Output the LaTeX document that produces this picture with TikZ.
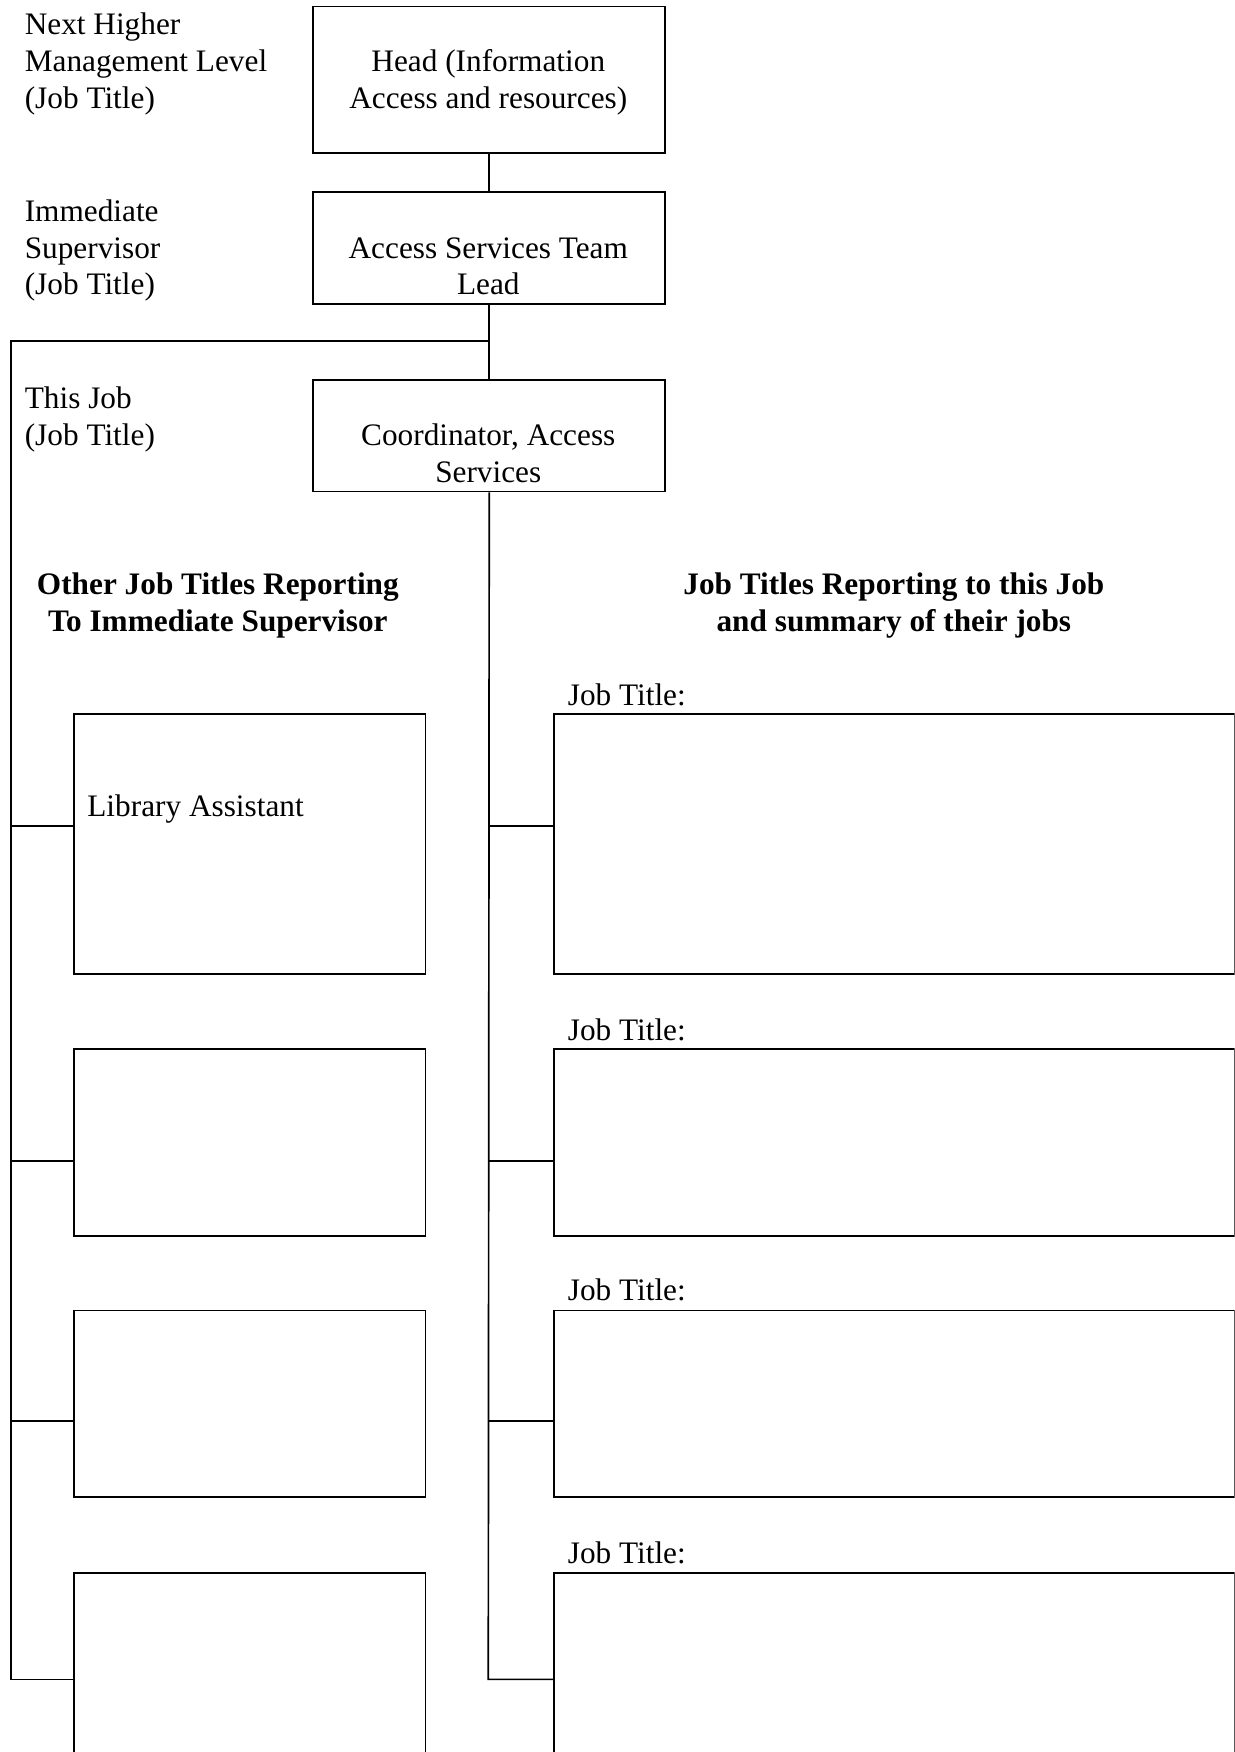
\documentclass[tikz,border=0pt]{standalone}
\usepackage{fontspec}
\setmainfont{Liberation Serif}
\begin{document}
\begin{tikzpicture}[x=1pt,y=-1pt,
  lbl/.style={font=\fontsize{28}{33}\selectfont, inner sep=0pt},
  hdg/.style={font=\fontsize{28}{33}\selectfont\bfseries, inner sep=0pt, align=center, anchor=base},
  box/.style={draw, line width=1.7pt, inner sep=0pt, anchor=north west},
  conn/.style={line width=1.5pt}]
\useasboundingbox (0,0) rectangle (1105,1568);
\clip (0,0) rectangle (1105,1568);
% top chain
\node[box, minimum width=315pt, minimum height=131pt] (head) at (279.5,5) {};
\node[box, minimum width=315pt, minimum height=100pt] (lead) at (279.5,171) {};
\node[box, minimum width=315pt, minimum height=100pt] (coord) at (279.5,339) {};
\node[lbl, align=center, anchor=base] (headtxt) at (437,97) {Head (Information\\Access and resources)};
\node[lbl, align=center, anchor=base] (leadtxt) at (437,264) {Access Services Team\\Lead};
\node[lbl, align=center, anchor=base] (coordtxt) at (437,432) {Coordinator, Access\\Services};
% left level labels
\node[lbl, align=left, anchor=base west] (lvl1) at (22,97) {Next Higher\\Management Level\\(Job Title)};
\node[lbl, align=left, anchor=base west] (lvl2) at (22,264) {Immediate\\Supervisor\\(Job Title)};
\node[lbl, align=left, anchor=base west] (lvl3) at (22,399) {This Job\\(Job Title)};
% headings
\node[hdg] (hleft) at (195,565) {Other Job Titles Reporting\\To Immediate Supervisor};
\node[hdg] (hright) at (800,565) {Job Titles Reporting to this Job\\and summary of their jobs};
% left boxes
\node[box, minimum width=315pt, minimum height=233pt] (l1) at (65,638) {};
\node[box, minimum width=315pt, minimum height=167pt] (l2) at (65,938) {};
\node[box, minimum width=315pt, minimum height=167pt] (l3) at (65,1172) {};
\node[box, minimum width=315pt, minimum height=200pt] (l4) at (65,1407) {};
\node[lbl, anchor=base west] (libasst) at (78,731) {Library Assistant};
% right boxes
\node[box, minimum width=609pt, minimum height=233pt] (r1) at (495,638) {};
\node[box, minimum width=609pt, minimum height=167pt] (r2) at (495,938) {};
\node[box, minimum width=609pt, minimum height=167pt] (r3) at (495,1172) {};
\node[box, minimum width=609pt, minimum height=200pt] (r4) at (495,1407) {};
\node[lbl, anchor=base west] (jt1) at (508,631) {Job Title:};
\node[lbl, anchor=base west] (jt2) at (508,931) {Job Title:};
\node[lbl, anchor=base west] (jt3) at (508,1164) {Job Title:};
\node[lbl, anchor=base west] (jt4) at (508,1399) {Job Title:};
% connector coordinates
\coordinate (split) at (437,305);
\coordinate (lcorner) at (10,305);
\coordinate (la) at (10,739);
\coordinate (lb) at (10,1039);
\coordinate (lc) at (10,1272);
\coordinate (ld) at (10,1503);
\coordinate (ra) at (437,739);
\coordinate (rb) at (437,1039);
\coordinate (rc) at (437,1272);
\coordinate (rd) at (437,1503);
% connectors
\draw[conn] (head.south) -- (lead.north);
\draw[conn] (lead.south) -- (coord.north);
\draw[conn] (split) -- (lcorner) -- (ld) -- (ld -| l4.west);
\draw[conn] (la) -- (la -| l1.west);
\draw[conn] (lb) -- (lb -| l2.west);
\draw[conn] (lc) -- (lc -| l3.west);
\draw[conn] (coord.south) -- (rd) -- (rd -| r4.west);
\draw[conn] (ra) -- (ra -| r1.west);
\draw[conn] (rb) -- (rb -| r2.west);
\draw[conn] (rc) -- (rc -| r3.west);
\end{tikzpicture}
\end{document}
